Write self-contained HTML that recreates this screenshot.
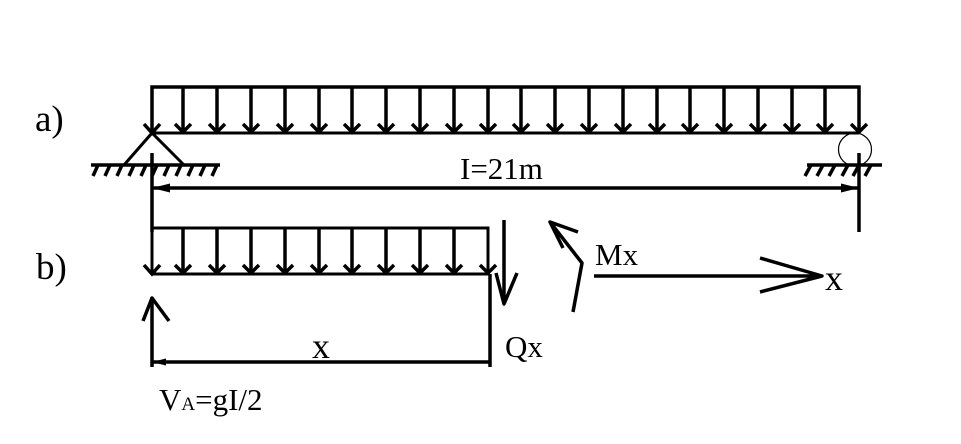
<!DOCTYPE html>
<html><head><meta charset="utf-8"><style>
html,body{margin:0;padding:0;background:#fff}
svg{display:block}
text{font-family:"Liberation Serif",serif;fill:#000}
</style></head><body>
<svg width="961" height="444" viewBox="0 0 961 444" xmlns="http://www.w3.org/2000/svg">
<g fill="none" stroke="#000" stroke-width="3.500">
<path d="M152 133V87H859V133"/>
<path d="M152 133H859" stroke-width="3"/>
<path d="M183 87V132M217 87V132M251 87V132M285 87V132M319 87V132M352 87V132M386 87V132M420 87V132M454 87V132M488 87V132M521 87V132M555 87V132M589 87V132M623 87V132M657 87V132M690 87V132M724 87V132M758 87V132M792 87V132M825 87V132"/>
<path d="M144 124L152 133L160 124M175 124L183 132L191 124M209 124L217 132L225 124M243 124L251 132L259 124M277 124L285 132L293 124M311 124L319 132L327 124M344 124L352 132L360 124M378 124L386 132L394 124M412 124L420 132L428 124M446 124L454 132L462 124M480 124L488 132L496 124M513 124L521 132L529 124M547 124L555 132L563 124M581 124L589 132L597 124M615 124L623 132L631 124M649 124L657 132L665 124M682 124L690 132L698 124M716 124L724 132L732 124M750 124L758 132L766 124M784 124L792 132L800 124M817 124L825 132L833 124M851 124L859 132L867 124"/>
<path d="M124 165L152 133L184 165" stroke-width="3"/>
<path d="M91 165H220M807 165H882" stroke-width="3.500"/>
<path d="M98 165L93 176M110 165L105 176M122 165L117 176M134 165L129 176M146 165L141 176M157 165L152 176M169 165L164 176M181 165L176 176M193 165L188 176M205 165L200 176M217 165L212 176"/>
<path d="M811 165L805 176M823 165L817 176M835 165L829 176M848 165L842 176M859 165L853 176M871 165L865 176"/>
<circle cx="855" cy="149.500" r="16.500" stroke-width="1.200"/>
<path d="M152 153V232M859 153V232"/>
<path d="M152 188H859"/>
<path d="M152 228H488V273M152 228V273M152 274H490" stroke-width="3"/>
<path d="M183 228V273M217 228V273M251 228V273M285 228V273M319 228V273M352 228V273M386 228V273M420 228V273M454 228V273"/>
<path d="M144 265L152 274L160 265M175 265L183 273L191 265M209 265L217 273L225 265M243 265L251 273L259 265M277 265L285 273L293 265M311 265L319 273L327 265M344 265L352 273L360 265M378 265L386 273L394 265M412 265L420 273L428 265M446 265L454 273L462 265M480 265L488 273L496 265"/>
<path d="M490 274V367M152 297V367M152 362H490"/>
<path d="M143 321L152 298L169 321" stroke-linejoin="round"/>
<path d="M504 220V304M496 273L504 304L517 273" stroke-linejoin="round"/>
<path d="M573 312L582 263L550 222M563 248L550 222L578 232" stroke-linejoin="round"/>
<path d="M594 276H822M760 258L822 276L760 292" stroke-linejoin="round"/>
</g>
<path d="M152 188L170 183.500V192.500ZM859 188L841 183.500V192.500ZM152 362L166 358.500V365.500Z" fill="#000"/>
<text x="35" y="131" font-size="37">a)</text>
<text x="36" y="279" font-size="37">b)</text>
<text x="460" y="179" font-size="31">I=21m</text>
<text x="595" y="265" font-size="31">Mx</text>
<text x="825" y="290" font-size="36">x</text>
<text x="505" y="357" font-size="31">Qx</text>
<text x="312" y="358" font-size="36">x</text>
<text x="159" y="410" font-size="31">V<tspan font-size="19">A</tspan>=gI/2</text>
</svg>
</body></html>
